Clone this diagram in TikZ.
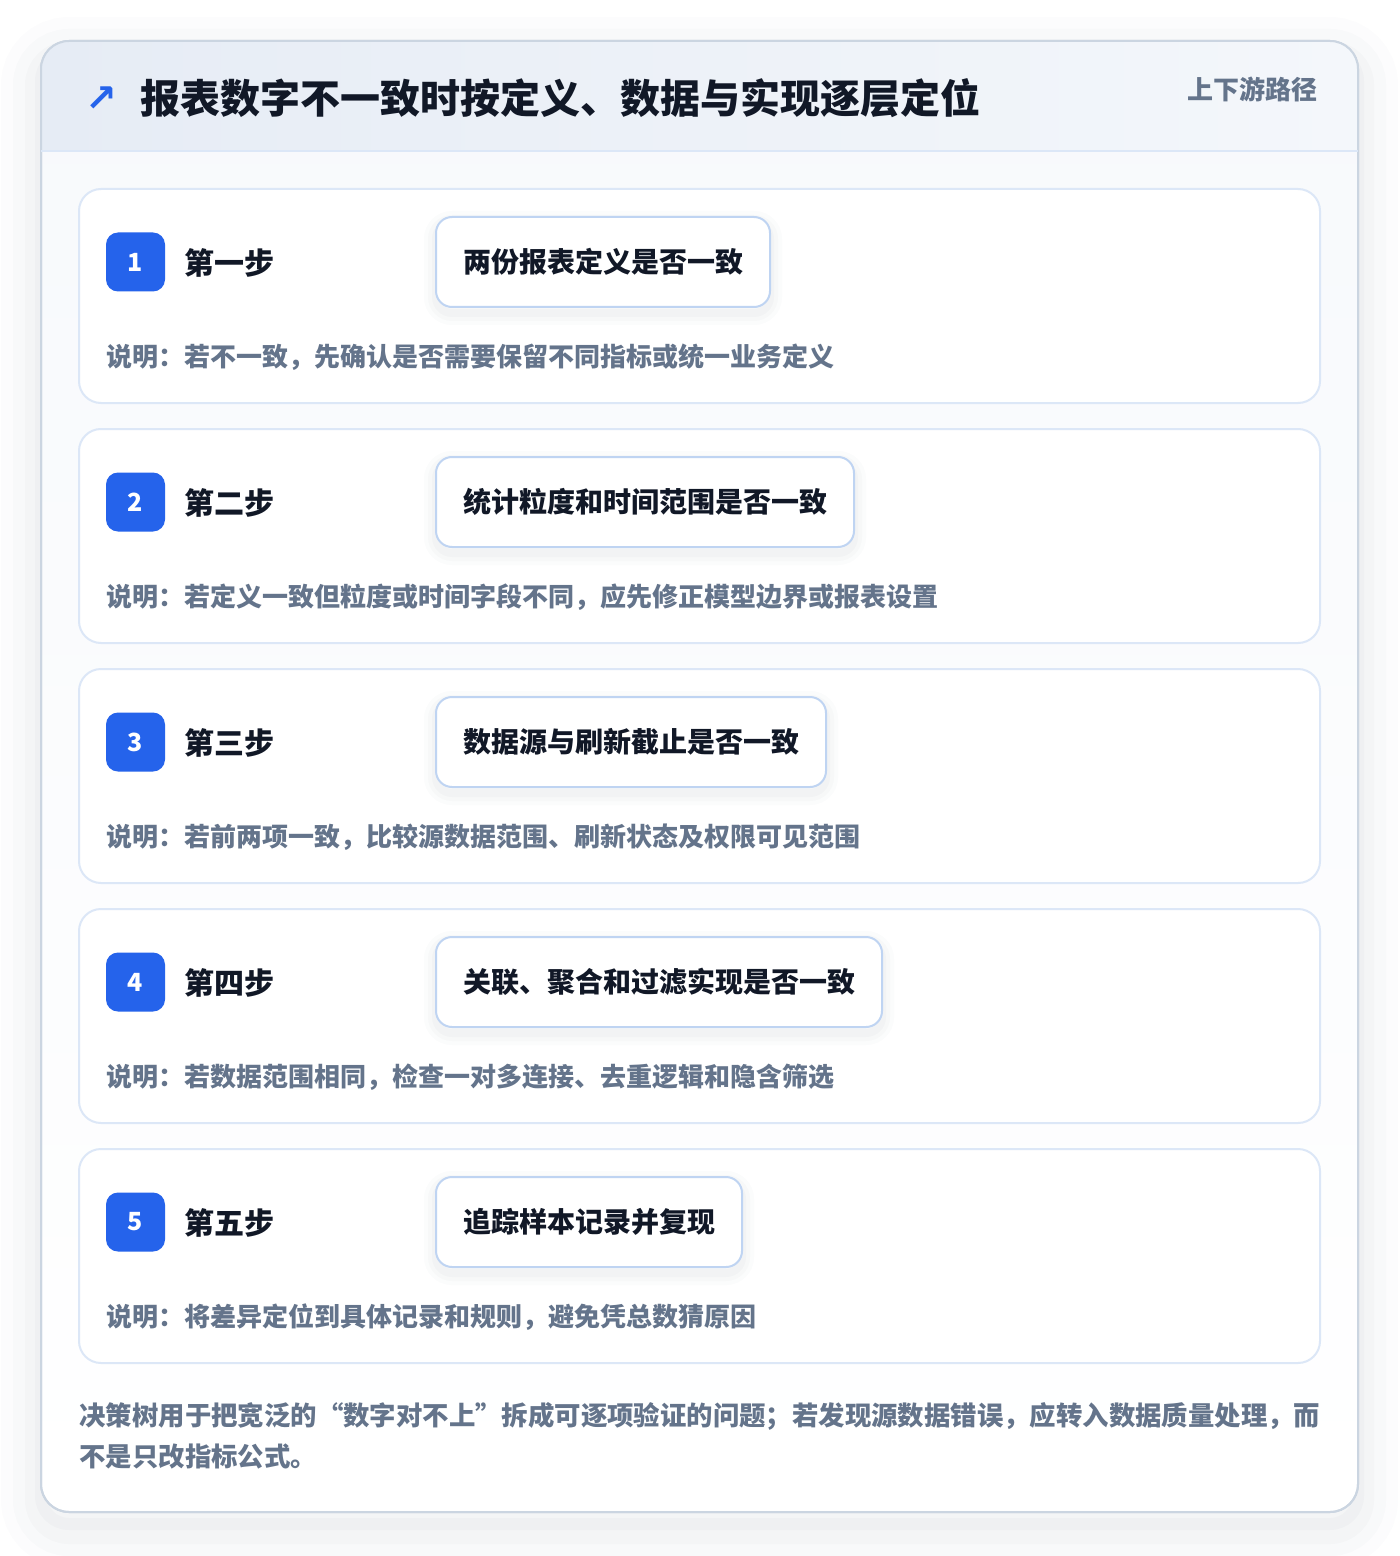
\documentclass[tikz,border=0pt]{standalone}
\usepackage{fontspec}
\setmainfont{Noto Sans CJK SC}
\newfontfamily\iconfont{DejaVu Sans}
\usepackage{tikz}
\definecolor{brand}{HTML}{2563EB}
\definecolor{ink}{HTML}{111827}
\definecolor{muted}{HTML}{64748B}
\definecolor{frame}{HTML}{CBD5E1}
\definecolor{cardline}{HTML}{DCE7F7}
\definecolor{qline}{HTML}{BFD4F2}
\definecolor{headleft}{HTML}{E6ECF5}
\definecolor{headright}{HTML}{F4F7FB}
\definecolor{bodytop}{HTML}{F7F9FC}
\definecolor{shade}{HTML}{334155}
\tikzset{softshadow/.style={preaction={draw=shade,line width=12pt,opacity=0.015,transform canvas={yshift=-3pt}},
    preaction={draw=shade,line width=8pt,opacity=0.02,transform canvas={yshift=-3pt}},
    preaction={draw=shade,line width=4pt,opacity=0.025,transform canvas={yshift=-3pt}}}}
\tikzset{bigshadow/.style={preaction={draw=shade,line width=40pt,opacity=0.012,transform canvas={yshift=-8pt}},
    preaction={draw=shade,line width=28pt,opacity=0.015,transform canvas={yshift=-8pt}},
    preaction={draw=shade,line width=16pt,opacity=0.02,transform canvas={yshift=-8pt}},
    preaction={draw=shade,line width=6pt,opacity=0.025,transform canvas={yshift=-6pt}}}}
\tikzset{card/.style={draw=cardline,fill=white,line width=1pt,rounded corners=11pt}}
\tikzset{badge/.style={fill=brand,rounded corners=6pt,minimum size=29.5pt,inner sep=0pt,text=white,font=\bfseries\fontsize{12.5}{12.5}\selectfont}}
\tikzset{steplabel/.style={anchor=west,inner sep=0pt,text=ink,font=\bfseries\fontsize{15}{15}\selectfont}}
\tikzset{question/.style={anchor=west,softshadow,draw=qline,fill=white,line width=1pt,rounded corners=8pt,minimum height=45pt,inner xsep=13.5pt,text=ink,font=\bfseries\fontsize{14}{14}\selectfont}}
\tikzset{note/.style={anchor=west,inner sep=0pt,text=muted,font=\bfseries\fontsize{13}{13}\selectfont}}
\begin{document}
\begin{tikzpicture}[x=0.5pt,y=-0.5pt]
    \useasboundingbox[fill=white] (0,0) rectangle (1400,1556);
    % outer frame
    \path[bigshadow,draw=frame,line width=1pt,top color=bodytop,bottom color=white,rounded corners=14pt]
      (41,41) rectangle (1358,1512);
    \begin{scope}
      \clip[rounded corners=14pt] (41,41) rectangle (1358,1512);
      \shade[left color=headleft,right color=headright] (41,41) rectangle (1358,151);
    \end{scope}
    \draw[frame,line width=1pt,rounded corners=14pt] (41,41) rectangle (1358,1512);
    \draw[cardline,line width=1pt] (41,151) -- (1358,151);
    \node[inner sep=0pt,text=brand,font=\iconfont\bfseries\fontsize{19}{19}\selectfont] (icon) at (101,99) {↗};
    \node[anchor=west,inner sep=0pt,text=ink,font=\bfseries\fontsize{20}{20}\selectfont] (title) at (140,98) {报表数字不一致时按定义、数据与实现逐层定位};
    \node[anchor=east,inner sep=0pt,text=muted,font=\bfseries\fontsize{13}{13}\selectfont] (route) at (1318,89) {上下游路径};
    % step 1
    \path[card] (79,189) rectangle (1320,403);
    \node[badge] (b1) at (135.5,262) {1};
    \node[steplabel] (s1) at (184,263) {第一步};
    \node[question] (q1) at (435,262) {两份报表定义是否一致};
    \node[note] (n1) at (106,357) {说明：若不一致，先确认是否需要保留不同指标或统一业务定义};
    % step 2
    \path[card] (79,429) rectangle (1320,643);
    \node[badge] (b2) at (135.5,502) {2};
    \node[steplabel] (s2) at (184,503) {第二步};
    \node[question] (q2) at (435,502) {统计粒度和时间范围是否一致};
    \node[note] (n2) at (106,597) {说明：若定义一致但粒度或时间字段不同，应先修正模型边界或报表设置};
    % step 3
    \path[card] (79,669) rectangle (1320,883);
    \node[badge] (b3) at (135.5,742) {3};
    \node[steplabel] (s3) at (184,743) {第三步};
    \node[question] (q3) at (435,742) {数据源与刷新截止是否一致};
    \node[note] (n3) at (106,837) {说明：若前两项一致，比较源数据范围、刷新状态及权限可见范围};
    % step 4
    \path[card] (79,909) rectangle (1320,1123);
    \node[badge] (b4) at (135.5,982) {4};
    \node[steplabel] (s4) at (184,983) {第四步};
    \node[question] (q4) at (435,982) {关联、聚合和过滤实现是否一致};
    \node[note] (n4) at (106,1077) {说明：若数据范围相同，检查一对多连接、去重逻辑和隐含筛选};
    % step 5
    \path[card] (79,1149) rectangle (1320,1363);
    \node[badge] (b5) at (135.5,1222) {5};
    \node[steplabel] (s5) at (184,1223) {第五步};
    \node[question] (q5) at (435,1222) {追踪样本记录并复现};
    \node[note] (n5) at (106,1317) {说明：将差异定位到具体记录和规则，避免凭总数猜原因};
    % summary
    \node[anchor=north west,inner sep=0pt,align=left,text=muted,font=\bfseries\fontsize{13.2}{20.5}\selectfont] (summary) at (79,1402)
      {决策树用于把宽泛的“数字对不上”拆成可逐项验证的问题；若发现源数据错误，应转入数据质量处理，而\\不是只改指标公式。};
  \end{tikzpicture}
\end{document}
